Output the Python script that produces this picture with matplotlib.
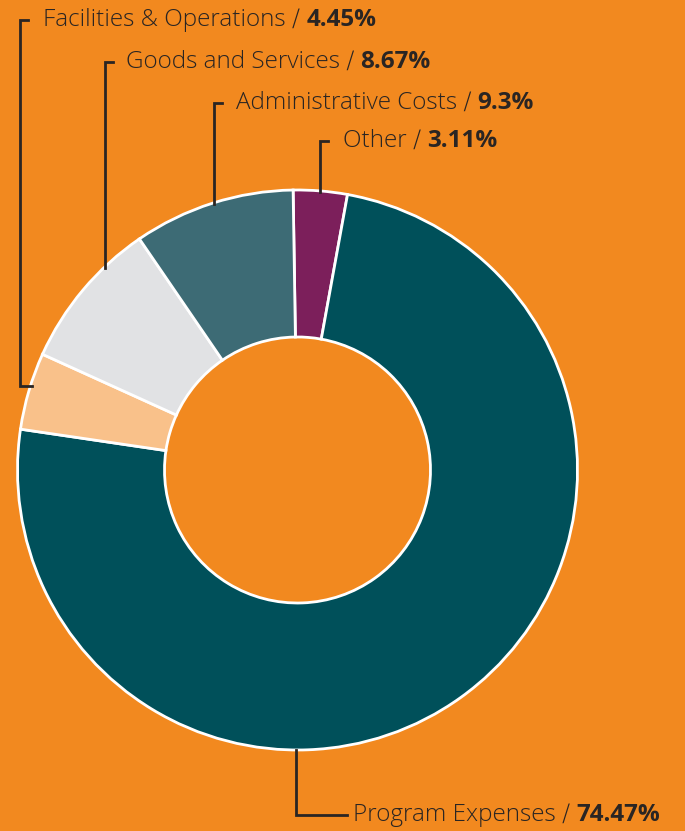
import matplotlib
matplotlib.use("Agg")
import matplotlib.pyplot as plt
import numpy as np

# slices, clockwise from the top
labels = ["Other", "Program Expenses", "Facilities & Operations",
          "Goods and Services", "Administrative Costs"]
values = [3.11, 74.47, 4.45, 8.67, 9.3]
value_text = ["3.11%", "74.47%", "4.45%", "8.67%", "9.3%"]
colors = ["#7c1f5b", "#00505a", "#f9c18a", "#e1e2e4", "#3d6b75"]

bg = "#f2891f"
ink = "#2a2523"
fonts = ["Open Sans", "DejaVu Sans"]
fs = 17.5

W, H = 685, 831
fig = plt.figure(figsize=(W / 100, H / 100), dpi=100, facecolor=bg)
ax = fig.add_axes([0, 0, 1, 1])
ax.set_facecolor(bg)

cx, cy, R = 297.5, H - 470, 280
ax.pie(values, colors=colors, startangle=90.9, counterclock=False,
       center=(cx, cy), radius=R,
       wedgeprops=dict(width=R - 133, edgecolor="white", linewidth=2))
ax.set_xlim(0, W)
ax.set_ylim(0, H)
ax.set_aspect("equal")
ax.axis("off")

fig.canvas.draw()
rend = fig.canvas.get_renderer()


def label(x, y, name, val):
    t = ax.text(x, y, name + " \u2215 ", fontsize=fs, family=fonts,
                fontweight="light", color=ink, va="center", ha="left")
    bb = t.get_window_extent(renderer=rend)
    x2 = ax.transData.inverted().transform((bb.x1, bb.y0))[0]
    ax.text(x2, y, val, fontsize=fs, family=fonts, fontweight="bold",
            color=ink, va="center", ha="left")


def circle_y(x):
    return cy + np.sqrt(R ** 2 - (x - cx) ** 2)


lw = 2
# top labels: (line x, label y in pixel rows from top, text x)
top = {"Facilities & Operations": (20, 20, 43),
       "Goods and Services": (105, 62, 126),
       "Administrative Costs": (214, 103, 236),
       "Other": (320, 141, 343)}
for i, name in enumerate(labels):
    if name not in top:
        continue
    lx, ly, tx = top[name]
    y = H - ly
    if name == "Facilities & Operations":
        yb = H - 386
        xe = cx - np.sqrt(R ** 2 - (yb - cy) ** 2) + 2
        ax.plot([lx + 8, lx, lx, xe], [y, y, yb, yb], color=ink, lw=lw,
                solid_joinstyle="miter")
    else:
        ax.plot([lx + 8, lx, lx], [y, y, circle_y(lx) - 1], color=ink, lw=lw,
                solid_joinstyle="miter")
    label(tx, y, name, value_text[i])

# bottom label
i = labels.index("Program Expenses")
by = H - 815
ax.plot([296, 296, 347], [cy - R, by, by], color=ink, lw=lw,
        solid_joinstyle="miter")
label(353, by, labels[i], value_text[i])

fig.savefig("out.png", dpi=100, facecolor=bg)
